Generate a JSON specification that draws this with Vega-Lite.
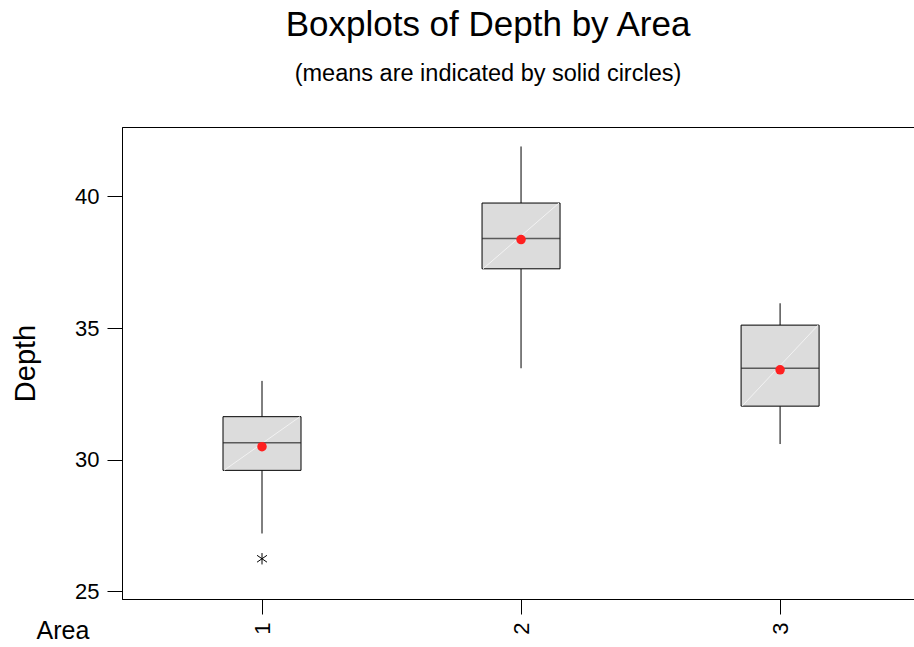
{
  "$schema": "https://vega.github.io/schema/vega-lite/v6.json",
  "width": 792,
  "height": 472,
  "autosize": {"type": "none"},
  "padding": {"left": 122, "top": 127, "right": 0, "bottom": 48},
  "background": "white",
  "config": {
    "font": "Liberation Sans",
    "view": {"stroke": "black", "strokeWidth": 1},
    "axis": {
      "domainColor": "black",
      "tickColor": "black",
      "labelColor": "black",
      "titleColor": "black",
      "grid": false,
      "labelFont": "Liberation Sans",
      "titleFont": "Liberation Sans",
      "titleFontWeight": "normal"
    }
  },
  "title": {
    "text": "Boxplots of Depth by Area",
    "subtitle": "(means are indicated by solid circles)",
    "fontSize": 35,
    "fontWeight": "normal",
    "subtitleFontSize": 23.5,
    "subtitleColor": "black",
    "color": "black",
    "font": "Liberation Sans",
    "subtitleFont": "Liberation Sans",
    "anchor": "middle",
    "dx": -30,
    "offset": 42,
    "subtitlePadding": 19
  },
  "datasets": {
    "boxes": [
      {"Area": 1, "lo": 27.19, "q1": 29.59, "median": 30.64, "q3": 31.63, "hi": 32.99, "mean": 30.49},
      {"Area": 2, "lo": 33.47, "q1": 37.25, "median": 38.40, "q3": 39.75, "hi": 41.90, "mean": 38.36},
      {"Area": 3, "lo": 30.59, "q1": 32.03, "median": 33.47, "q3": 35.11, "hi": 35.94, "mean": 33.41}
    ],
    "outliers": [
      {"Area": 1, "Depth": 26.23}
    ]
  },
  "encoding": {
    "x": {
      "field": "Area",
      "type": "quantitative",
      "scale": {"domain": [0.4595, 3.517], "nice": false, "zero": false, "padding": 0},
      "axis": {
        "values": [1, 2, 3],
        "format": "d",
        "title": "Area",
        "titleFontSize": 25,
        "titleAnchor": "start",
        "titleAlign": "left",
        "titleBaseline": "middle",
        "titleX": -86,
        "titleY": 31,
        "labelAngle": 270,
        "labelFontSize": 22,
        "labelPadding": 8,
        "tickSize": 15,
        "labelFlush": false
      }
    }
  },
  "layer": [
    {
      "data": {"name": "boxes"},
      "mark": {"type": "rule", "color": "black", "strokeWidth": 1},
      "encoding": {
        "y": {
          "field": "q3",
          "type": "quantitative",
          "scale": {"domain": [24.7, 42.64], "nice": false, "zero": false, "padding": 0},
          "axis": {
            "values": [25, 30, 35, 40],
            "title": "Depth",
            "titleFontSize": 29,
            "titlePadding": 34,
            "labelFontSize": 22,
            "labelPadding": 8,
            "tickSize": 15
          }
        },
        "y2": {"field": "hi"}
      }
    },
    {
      "data": {"name": "boxes"},
      "mark": {"type": "rule", "color": "black", "strokeWidth": 1},
      "encoding": {
        "y": {"field": "lo", "type": "quantitative"},
        "y2": {"field": "q1"}
      }
    },
    {
      "data": {"name": "boxes"},
      "mark": {"type": "bar", "width": 78, "fill": "#dcdcdc", "stroke": "black", "strokeWidth": 1},
      "encoding": {
        "y": {"field": "q1", "type": "quantitative"},
        "y2": {"field": "q3"}
      }
    },
    {
      "data": {"name": "boxes"},
      "mark": {"type": "rule", "color": "#f2f2f2", "strokeWidth": 1, "xOffset": -38, "x2Offset": 38},
      "encoding": {
        "x2": {"field": "Area"},
        "y": {"field": "q1", "type": "quantitative"},
        "y2": {"field": "q3"}
      }
    },
    {
      "data": {"name": "boxes"},
      "mark": {"type": "tick", "orient": "horizontal", "size": 78, "thickness": 1.5, "color": "#222222"},
      "encoding": {
        "y": {"field": "median", "type": "quantitative"}
      }
    },
    {
      "data": {"name": "boxes"},
      "mark": {"type": "point", "filled": true, "shape": "circle", "size": 90, "color": "#ff2020", "opacity": 1},
      "encoding": {
        "y": {"field": "mean", "type": "quantitative"}
      }
    },
    {
      "data": {"name": "outliers"},
      "mark": {
        "type": "point",
        "filled": false,
        "shape": "M0,-1L0,1M-0.87,-0.6L0.87,0.6M-0.87,0.6L0.87,-0.6",
        "size": 130,
        "stroke": "black",
        "strokeWidth": 1,
        "opacity": 1
      },
      "encoding": {
        "y": {"field": "Depth", "type": "quantitative"}
      }
    }
  ]
}
